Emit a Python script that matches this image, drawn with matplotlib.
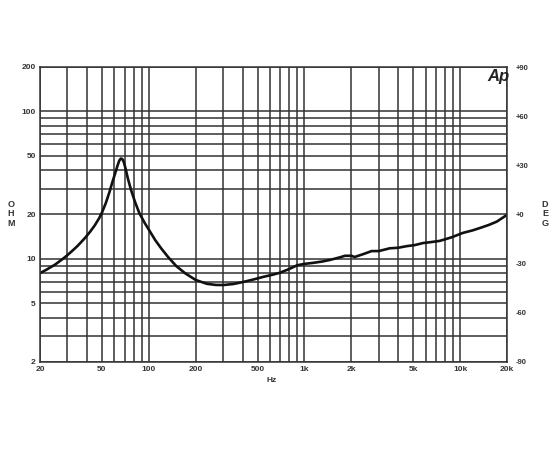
import matplotlib
matplotlib.use('Agg')
import matplotlib.pyplot as plt
from matplotlib.ticker import FixedLocator, NullFormatter

plt.rcParams['font.family'] = ['Liberation Sans', 'DejaVu Sans']

# impedance curve (Hz, ohm)
freq = [20, 22, 25, 28, 30, 33, 35, 39, 42, 45, 48, 50, 53, 56, 58, 60.6,
        63, 64.5, 66, 67.5, 69, 71, 73.4, 77, 81.6, 87, 94.5, 100, 110, 120,
        133, 150, 171, 200, 236, 270, 300, 350, 402, 470, 540, 620, 694, 800,
        896, 1000, 1136, 1300, 1462, 1690, 1820, 2000, 2100, 2400, 2700,
        3000, 3530, 4000, 4530, 5100, 5760, 6500, 7400, 8800, 10400, 12000,
        13400, 15300, 17200, 20000]
ohm = [8.0, 8.45, 9.15, 10.0, 10.6, 11.6, 12.3, 13.9, 15.3, 16.9, 18.9, 20.6,
       24.0, 28.6, 32.5, 37.6, 43.0, 46.2, 47.9, 47.6, 45.5, 40.8, 35.0,
       29.2, 24.3, 20.4, 17.4, 15.8, 13.4, 11.8, 10.3, 8.95, 8.0, 7.2, 6.78,
       6.66, 6.65, 6.76, 6.97, 7.25, 7.54, 7.8, 8.05, 8.55, 9.05, 9.25, 9.4,
       9.6, 9.85, 10.25, 10.5, 10.5, 10.3, 10.8, 11.3, 11.3, 11.8, 11.9,
       12.2, 12.4, 12.8, 13.0, 13.25, 14.0, 15.0, 15.6, 16.2, 17.0, 17.9,
       19.9]

x_labels = [20, 50, 100, 200, 500, 1000, 2000, 5000, 10000, 20000]
x_text = ['20', '50', '100', '200', '500', '1k', '2k', '5k', '10k', '20k']
x_grid = [20, 30, 40, 50, 60, 70, 80, 90, 100, 200, 300, 400, 500, 600, 700,
          800, 900, 1000, 2000, 3000, 4000, 5000, 6000, 7000, 8000, 9000,
          10000, 20000]
y_labels = [2, 5, 10, 20, 50, 100, 200]
y_grid = [2, 3, 4, 5, 6, 7, 8, 9, 10, 20, 30, 40, 50, 60, 70, 80, 90, 100, 200]
deg_ticks = [-90, -60, -30, 0, 30, 60, 90]
deg_text = ['-90', '-60', '-30', '+0', '+30', '+60', '+90']

grid_col = '#333333'
lab_col = '#333333'

fig = plt.figure(figsize=(5.5, 4.5), dpi=100)
ax = fig.add_axes([40 / 550, 1 - 362 / 450, 467 / 550, 295 / 450])
ax.set_xscale('log')
ax.set_yscale('log')
ax.set_xlim(20, 20000)
ax.set_ylim(2, 200)

ax.xaxis.set_major_locator(FixedLocator(x_labels))
ax.set_xticklabels(x_text)
ax.xaxis.set_minor_locator(FixedLocator(x_grid))
ax.xaxis.set_minor_formatter(NullFormatter())
ax.yaxis.set_major_locator(FixedLocator(y_labels))
ax.set_yticklabels([str(v) for v in y_labels])
ax.yaxis.set_minor_locator(FixedLocator(y_grid))
ax.yaxis.set_minor_formatter(NullFormatter())

ax.grid(which='both', color=grid_col, linewidth=1.1)
ax.tick_params(which='both', length=0, pad=3, labelsize=6, labelcolor=lab_col)
for t in ax.get_xticklabels() + ax.get_yticklabels():
    t.set_fontweight('bold')
for s in ax.spines.values():
    s.set_color(grid_col)
    s.set_linewidth(1.1)

ax.plot(freq, ohm, color='#111111', linewidth=1.9,
        solid_capstyle='round', solid_joinstyle='round')

ax2 = ax.twinx()
ax2.set_ylim(-90, 90)
ax2.set_yticks(deg_ticks)
ax2.set_yticklabels(deg_text)
ax2.tick_params(length=0, pad=6, labelsize=5.5, labelcolor=lab_col)
for t in ax2.get_yticklabels():
    t.set_fontweight('bold')
for s in ax2.spines.values():
    s.set_visible(False)

fig.text(272 / 550, 1 - 381 / 450, 'Hz', ha='center', va='center',
         fontsize=6, fontweight='bold', color=lab_col)
fig.text(11 / 550, 1 - 214 / 450, 'O\nH\nM', ha='center', va='center',
         fontsize=6.5, fontweight='bold', color=lab_col, linespacing=1.1)
fig.text(545 / 550, 1 - 214 / 450, 'D\nE\nG', ha='center', va='center',
         fontsize=6.5, fontweight='bold', color=lab_col, linespacing=1.1)
fig.text(498 / 550, 1 - 76 / 450, 'Ap', ha='center', va='center',
         fontsize=12, fontweight='bold', style='italic', color='#222222')

fig.savefig('out.png', dpi=100, facecolor='white')
